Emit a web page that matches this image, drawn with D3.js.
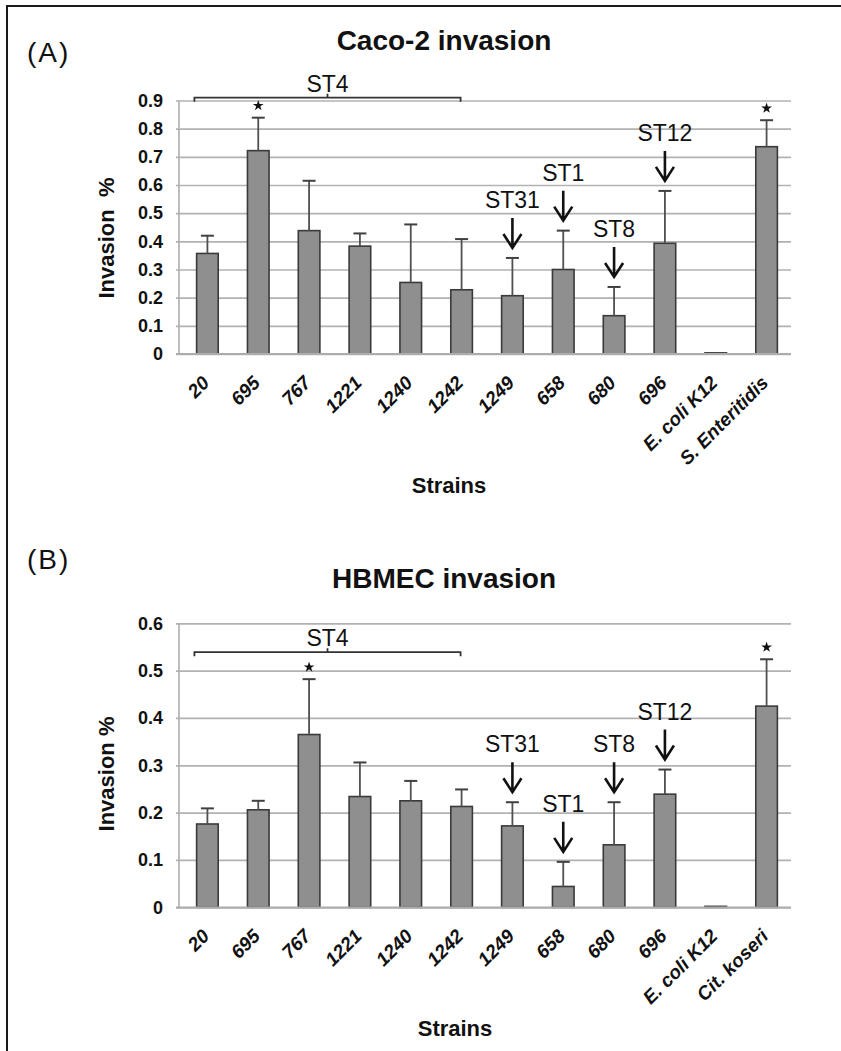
<!DOCTYPE html>
<html>
<head>
<meta charset="utf-8">
<script src="https://cdn.jsdelivr.net/npm/d3@7"></script>
<style>
  html, body { margin: 0; padding: 0; background: #fff; }
  svg { display: block; font-family: "Liberation Sans", Arial, Helvetica, sans-serif; }
</style>
</head>
<body>
<svg id="fig" width="841" height="1051"></svg>
<script>
// Strains tested in both assays
const strainsCaco2 = ["20", "695", "767", "1221", "1240", "1242", "1249", "658", "680", "696", "E. coli K12", "S. Enteritidis"];
const strainsHbmec = ["20", "695", "767", "1221", "1240", "1242", "1249", "658", "680", "696", "E. coli K12", "Cit. koseri"];

// Mean invasion (%) and upper error (SD)
const caco2Mean = [0.357, 0.722, 0.438, 0.383, 0.254, 0.228, 0.207, 0.300, 0.136, 0.393, 0.004, 0.736];
const caco2Err  = [0.063, 0.117, 0.177, 0.045, 0.206, 0.180, 0.134, 0.138, 0.102, 0.186, 0.000, 0.094];
const hbmecMean = [0.176, 0.206, 0.365, 0.234, 0.225, 0.213, 0.172, 0.044, 0.132, 0.239, 0.002, 0.425];
const hbmecErr  = [0.033, 0.019, 0.117, 0.072, 0.042, 0.036, 0.050, 0.052, 0.090, 0.052, 0.000, 0.099];

// Axis ticks
const caco2Ticks = [0, 0.1, 0.2, 0.3, 0.4, 0.5, 0.6, 0.7, 0.8, 0.9];
const hbmecTicks = [0, 0.1, 0.2, 0.3, 0.4, 0.5, 0.6];

// Sequence types marked with arrows
const seqTypeStrains = ["1249", "658", "680", "696"];
const seqTypeNames   = ["ST31", "ST1", "ST8", "ST12"];
// ST4 group spans these strains
const st4Strains = ["20", "695", "767", "1221", "1240", "1242"];
// Significant differences
const sigCaco2 = ["695", "S. Enteritidis"];
const sigHbmec = ["767", "Cit. koseri"];

const svg = d3.select("#fig");

// Figure frame (top and left rules)
svg.append("line").attr("x1", 6).attr("x2", 841).attr("y1", 6).attr("y2", 6)
  .attr("stroke", "#1a1a1a").attr("stroke-width", 2);
svg.append("line").attr("x1", 7).attr("x2", 7).attr("y1", 5).attr("y2", 1051)
  .attr("stroke", "#1a1a1a").attr("stroke-width", 2);

function drawPanel(cfg) {
  const g = svg.append("g");
  const x = d3.scaleBand().domain(cfg.strains).range([182, 792])
    .paddingInner(0.575).paddingOuter(0.2875);
  const y = d3.scaleLinear().domain([0, cfg.max]).range([cfg.bottom, cfg.top]);
  const axisX = 179, gridRight = 791;
  const cx = s => x(s) + x.bandwidth() / 2;

  // panel letter
  g.append("text").attr("x", 27).attr("y", cfg.letterY)
    .attr("font-size", 28).attr("letter-spacing", 2).attr("fill", "#111")
    .text(cfg.letter);

  // title
  g.append("text").attr("x", 444).attr("y", cfg.titleY)
    .attr("text-anchor", "middle").attr("font-size", 28).attr("font-weight", "bold")
    .attr("fill", "#111").text(cfg.title);

  // y axis with gridlines
  const yAxis = d3.axisLeft(y).tickValues(cfg.ticks)
    .tickFormat(d => d === 0 ? "0" : d3.format(".1f")(d))
    .tickSize(-(gridRight - axisX)).tickPadding(16);
  const ya = g.append("g").attr("transform", `translate(${axisX},0)`).call(yAxis);
  ya.select(".domain").remove();
  ya.selectAll(".tick line").attr("x1", -3).attr("stroke", "#b2b2b2").attr("stroke-width", 1.7);
  ya.selectAll(".tick text").attr("font-size", 18).attr("font-weight", "bold")
    .attr("fill", "#111").attr("font-family", "'Liberation Sans', Arial, sans-serif");
  g.append("line").attr("x1", axisX).attr("x2", axisX)
    .attr("y1", y(cfg.max)).attr("y2", y(0))
    .attr("stroke", "#b2b2b2").attr("stroke-width", 1.7);

  // y axis title
  g.append("text")
    .attr("transform", `translate(114,${cfg.yLabelY}) rotate(-90)`)
    .attr("text-anchor", "middle").attr("font-size", 22).attr("font-weight", "bold")
    .attr("fill", "#111").text(cfg.yLabel);

  // bars
  const data = cfg.strains.map((s, i) => ({ s, m: cfg.mean[i], e: cfg.err[i] }));
  g.selectAll("rect.bar").data(data).join("rect").attr("class", "bar")
    .attr("x", d => x(d.s)).attr("width", x.bandwidth())
    .attr("y", d => y(d.m)).attr("height", d => y(0) - y(d.m))
    .attr("fill", "#8f8f8f").attr("stroke", "#3a3a3a").attr("stroke-width", 1.6);

  // error bars (upper)
  const eb = g.selectAll("g.err").data(data.filter(d => d.e > 0)).join("g").attr("class", "err");
  eb.append("line").attr("x1", d => cx(d.s)).attr("x2", d => cx(d.s))
    .attr("y1", d => y(d.m)).attr("y2", d => y(d.m + d.e))
    .attr("stroke", "#505050").attr("stroke-width", 1.8);
  eb.append("line").attr("x1", d => cx(d.s) - 6.5).attr("x2", d => cx(d.s) + 6.5)
    .attr("y1", d => y(d.m + d.e)).attr("y2", d => y(d.m + d.e))
    .attr("stroke", "#404040").attr("stroke-width", 2);

  // x axis
  const xAxis = d3.axisBottom(x).tickSize(0);
  const xa = g.append("g").attr("transform", `translate(0,${y(0)})`).call(xAxis);
  xa.select(".domain").remove();
  xa.selectAll(".tick text")
    .attr("y", 0).attr("dy", 0)
    .attr("transform", "translate(3,30) rotate(-45)")
    .attr("text-anchor", "end")
    .attr("font-size", 19).attr("font-weight", "bold").attr("font-style", "italic")
    .attr("fill", "#111").attr("font-family", "'Liberation Sans', Arial, sans-serif");
  g.append("line").attr("x1", axisX - 3).attr("x2", gridRight)
    .attr("y1", y(0)).attr("y2", y(0))
    .attr("stroke", "#acacac").attr("stroke-width", 1.8);

  // x axis title
  g.append("text").attr("x", cfg.xLabelX).attr("y", cfg.xLabelY)
    .attr("text-anchor", "middle").attr("font-size", 22).attr("font-weight", "bold")
    .attr("fill", "#111").text("Strains");

  // ST4 bracket
  const bx0 = cx(st4Strains[0]) - 13;
  const bx1 = cx(st4Strains[st4Strains.length - 1]) - 1;
  const by = y(cfg.bracketLevel);
  const bmid = (bx0 + bx1) / 2;
  g.append("path")
    .attr("d", `M${bx0},${by + 4}L${bx0},${by}L${bx1},${by}L${bx1},${by + 4}M${bmid},${by}L${bmid},${by - 4}`)
    .attr("fill", "none").attr("stroke", "#333").attr("stroke-width", 1.8);
  g.append("text").attr("x", bmid).attr("y", by - 6)
    .attr("text-anchor", "middle").attr("font-size", 23).attr("fill", "#111").text("ST4");

  // sequence type arrows
  seqTypeStrains.forEach((s, i) => {
    const d = data.find(v => v.s === s);
    const ax = cx(s);
    const tip = y(d.m + d.e) - 10;
    const top = tip - 30;
    g.append("path")
      .attr("d", `M${ax},${top}L${ax},${tip}M${ax - 9},${tip - 14}L${ax},${tip}L${ax + 9},${tip - 14}`)
      .attr("fill", "none").attr("stroke", "#111").attr("stroke-width", 2.6);
    g.append("text").attr("x", ax).attr("y", top - 10)
      .attr("text-anchor", "middle").attr("font-size", 23).attr("fill", "#111")
      .text(seqTypeNames[i]);
  });

  // significance markers
  const star = d3.symbol().type(d3.symbolStar).size(36);
  cfg.sig.forEach(s => {
    const d = data.find(v => v.s === s);
    g.append("path").attr("d", star())
      .attr("transform", `translate(${cx(s)},${y(d.m + d.e) - 12})`)
      .attr("fill", "#111");
  });
}

drawPanel({
  letter: "(A)", letterY: 62, title: "Caco-2 invasion", titleY: 49.5,
  strains: strainsCaco2, mean: caco2Mean, err: caco2Err, ticks: caco2Ticks,
  max: 0.9, top: 100.5, bottom: 354,
  yLabel: "Invasion\u00a0\u00a0%", yLabelY: 238,
  xLabelX: 449, xLabelY: 493, bracketLevel: 0.91, sig: sigCaco2
});

drawPanel({
  letter: "(B)", letterY: 569, title: "HBMEC invasion", titleY: 588,
  strains: strainsHbmec, mean: hbmecMean, err: hbmecErr, ticks: hbmecTicks,
  max: 0.6, top: 623.3, bottom: 907.3,
  yLabel: "Invasion %", yLabelY: 774,
  xLabelX: 455, xLabelY: 1036, bracketLevel: 0.539, sig: sigHbmec
});
</script>
</body>
</html>
